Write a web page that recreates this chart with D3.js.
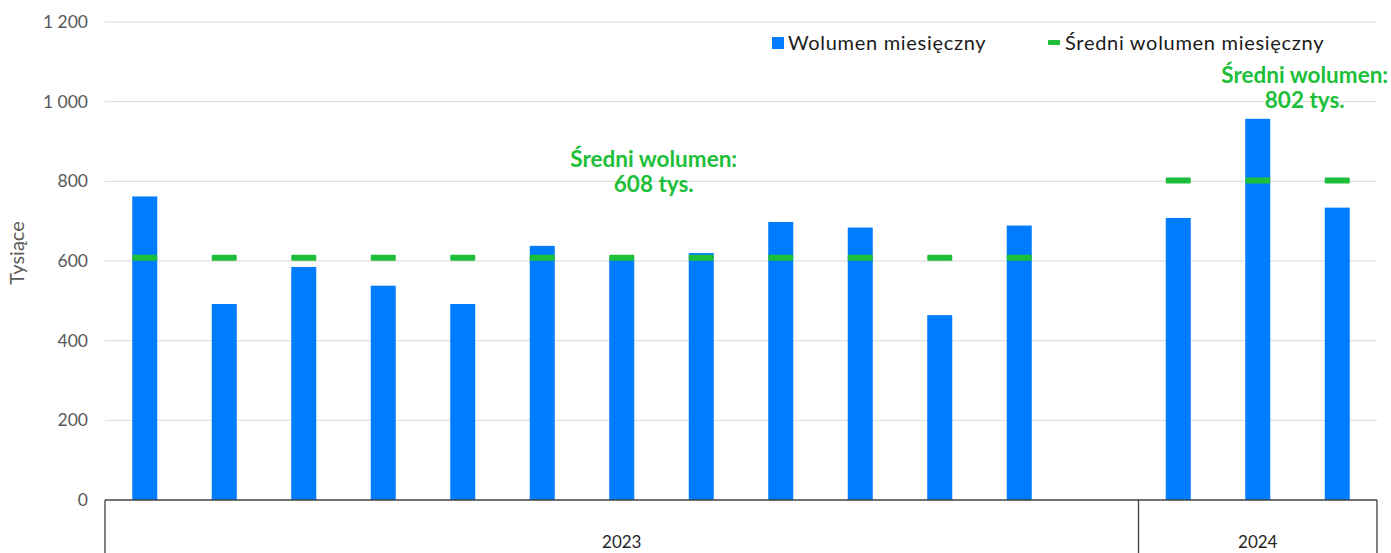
<!DOCTYPE html>
<html>
<head>
<meta charset="utf-8">
<script src="https://cdn.jsdelivr.net/npm/d3@7"></script>
<style>
  body { margin: 0; background: #fff; }
  svg { font-family: Lato, sans-serif; display: block; }
</style>
</head>
<body>
<div class="chart"></div>
<script>
// months in 2023 (12 + empty slot) and 2024
const months = ["2023-01","2023-02","2023-03","2023-04","2023-05","2023-06","2023-07","2023-08","2023-09","2023-10","2023-11","2023-12","gap","2024-01","2024-02","2024-03"];
const volume = [762, 492, 585, 538, 492, 638, 606, 620, 698, 684, 464, 689, null, 708, 957, 734];
const average = [608, 608, 608, 608, 608, 608, 608, 608, 608, 608, 608, 608, null, 802, 802, 802];
const years = [
  { label: "2023", from: "2023-01", to: "gap" },
  { label: "2024", from: "2024-01", to: "2024-03" }
];
const yTicks = [0, 200, 400, 600, 800, 1000, 1200];
const notes = [
  { at: "2023-07", value: 608, lines: ["Średni wolumen:", "608 tys."], dx: 32, dy: -91 },
  { at: "2024-02", value: 802, lines: ["Średni wolumen:", "802 tys."], dx: 47, dy: -98 }
];

const width = 1391, height = 553;
const margin = { top: 22, right: 14, bottom: 53, left: 105 };
const blue = "#007DFF", green = "#1DBF3A";

const svg = d3.select(".chart").append("svg")
  .attr("width", width)
  .attr("height", height);

const x = d3.scaleBand()
  .domain(months)
  .range([margin.left, width - margin.right])
  .paddingInner(0)
  .paddingOuter(0);

const y = d3.scaleLinear()
  .domain([0, 1200])
  .range([height - margin.bottom, margin.top]);

const barW = 25;

// grid + y labels
svg.append("g")
  .selectAll("line")
  .data(yTicks.filter(d => d > 0))
  .join("line")
  .attr("x1", margin.left)
  .attr("x2", width - margin.right)
  .attr("y1", d => y(d))
  .attr("y2", d => y(d))
  .attr("stroke", "#d9d9d9")
  .attr("stroke-width", 1);

const fmt = d => d3.format(",")(d).replace(",", " ");
svg.append("g")
  .selectAll("text")
  .data(yTicks)
  .join("text")
  .attr("x", 88)
  .attr("y", d => y(d))
  .attr("dy", "0.35em")
  .attr("text-anchor", "end")
  .attr("fill", "#595959")
  .style("font-size", "17.5px")
  .text(fmt);

svg.append("text")
  .attr("transform", `translate(24,253) rotate(-90)`)
  .attr("text-anchor", "middle")
  .attr("fill", "#595959")
  .style("font-size", "20px")
  .text("Tysiące");

// bars
const rows = months.map((m, i) => ({ m, v: volume[i], a: average[i] }));
svg.append("g")
  .selectAll("rect")
  .data(rows.filter(d => d.v != null))
  .join("rect")
  .attr("x", d => x(d.m) + x.bandwidth() / 2 - barW / 2)
  .attr("y", d => y(d.v))
  .attr("width", barW)
  .attr("height", d => y(0) - y(d.v))
  .attr("fill", blue);

// average markers
svg.append("g")
  .selectAll("rect")
  .data(rows.filter(d => d.a != null))
  .join("rect")
  .attr("x", d => x(d.m) + x.bandwidth() / 2 - barW / 2)
  .attr("y", d => y(d.a) - 3)
  .attr("width", barW)
  .attr("height", 6)
  .attr("rx", 1)
  .attr("fill", green);

// x axis: baseline and year boxes
const ax = svg.append("g").attr("stroke", "#404040").attr("stroke-width", 1.3);
ax.append("line")
  .attr("x1", margin.left).attr("x2", width - margin.right)
  .attr("y1", y(0)).attr("y2", y(0));
const edges = [x(years[0].from), x(years[1].from), x(years[1].to) + x.bandwidth()];
ax.selectAll("line.sep")
  .data(edges)
  .join("line")
  .attr("class", "sep")
  .attr("x1", d => d).attr("x2", d => d)
  .attr("y1", y(0)).attr("y2", height);

svg.append("g")
  .selectAll("text")
  .data(years)
  .join("text")
  .attr("x", d => (x(d.from) + x(d.to) + x.bandwidth()) / 2)
  .attr("y", 548)
  .attr("text-anchor", "middle")
  .attr("fill", "#262626")
  .style("font-size", "17px")
  .text(d => d.label);

// annotations
const ann = svg.append("g")
  .selectAll("text")
  .data(notes)
  .join("text")
  .attr("y", d => y(d.value) + d.dy)
  .attr("text-anchor", "middle")
  .attr("fill", green)
  .style("font-size", "22.5px")
  .style("font-weight", "bold");
ann.selectAll("tspan")
  .data(d => d.lines.map((t, i) => ({ t, i, x: x(d.at) + x.bandwidth() / 2 + d.dx })))
  .join("tspan")
  .attr("x", d => d.x)
  .attr("dy", d => d.i === 0 ? 0 : 25)
  .text(d => d.t);

// legend
const legend = svg.append("g")
  .style("font-size", "20px")
  .style("letter-spacing", "0.7px")
  .attr("fill", "#1a1a1a");
legend.append("rect").attr("x", 772).attr("y", 37).attr("width", 12).attr("height", 12).attr("fill", blue);
legend.append("text").attr("x", 788).attr("y", 50).text("Wolumen miesięczny");
legend.append("rect").attr("x", 1048).attr("y", 40).attr("width", 12).attr("height", 5).attr("rx", 1).attr("fill", green);
legend.append("text").attr("x", 1065).attr("y", 50).text("Średni wolumen miesięczny");
</script>
</body>
</html>
